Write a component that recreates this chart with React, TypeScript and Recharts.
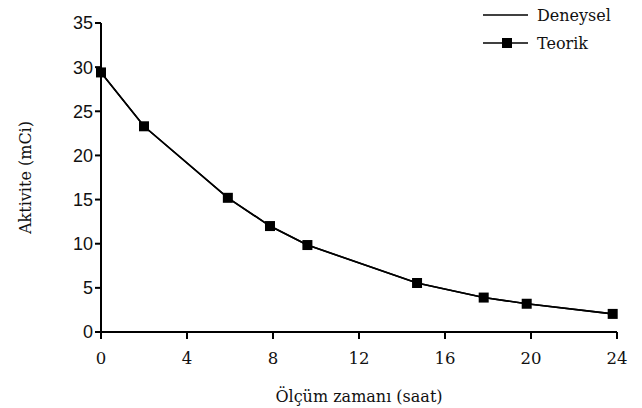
import React from "react";
import { LineChart, Line, XAxis, YAxis } from "recharts";

const hours = [0, 2, 5.9, 7.86, 9.6, 14.7, 17.8, 19.8, 23.8];
const deneysel = [29.4, 23.3, 15.2, 12.0, 9.85, 5.55, 3.9, 3.2, 2.05];
const teorik = [29.4, 23.3, 15.2, 12.0, 9.85, 5.55, 3.9, 3.2, 2.05];
const xTicks = [0, 4, 8, 12, 16, 20, 24];
const yTicks = [0, 5, 10, 15, 20, 25, 30, 35];
const legendNames = ["Deneysel", "Teorik"];

const data = hours.map((h, i) => ({ h, deneysel: deneysel[i], teorik: teorik[i] }));

const SquareDot = (props: any) => {
  const { cx, cy } = props;
  if (cx == null || cy == null) return null;
  return <rect x={cx - 5} y={cy - 5} width={10} height={10} fill="#000" />;
};

const serif = "'DejaVu Serif', serif";
const sans = "'Liberation Sans', Arial, sans-serif";

export default function App() {
  return (
    <div style={{ position: "absolute", left: 0, top: 0, width: 642, height: 408, background: "#fff" }}>
      <LineChart width={642} height={408} data={data} margin={{ top: 23, right: 25, bottom: 0, left: 0 }}>
        <XAxis
          dataKey="h"
          type="number"
          domain={[0, 24]}
          ticks={xTicks}
          height={76}
          axisLine={{ stroke: "#000", strokeWidth: 2 }}
          tickLine={{ stroke: "#000", strokeWidth: 2 }}
          tickSize={7}
          tickMargin={13}
          tick={{ fontFamily: serif, fontSize: 16.5, fill: "#111" }}
          label={{ value: "Ölçüm zamanı (saat)", position: "insideBottom", offset: 6, fontFamily: serif, fontSize: 16, fill: "#111" }}
        />
        <YAxis
          type="number"
          domain={[0, 35]}
          ticks={yTicks}
          width={101}
          axisLine={{ stroke: "#000", strokeWidth: 2 }}
          tickLine={{ stroke: "#000", strokeWidth: 2 }}
          tickSize={6}
          tick={{ fontFamily: sans, fontSize: 18, fill: "#111" }}
          label={{ value: "Aktivite (mCi)", angle: -90, position: "insideLeft", offset: 25, fontFamily: serif, fontSize: 16, fill: "#111", style: { textAnchor: "middle" } }}
        />
        <Line dataKey="deneysel" name={legendNames[0]} stroke="#000" strokeWidth={1.6} dot={false} isAnimationActive={false} />
        <Line dataKey="teorik" name={legendNames[1]} stroke="#000" strokeWidth={1.6} dot={<SquareDot />} activeDot={false} isAnimationActive={false} />
      </LineChart>
      <svg width={164} height={60} style={{ position: "absolute", left: 478, top: 0 }}>
        <line x1={5} y1={15} x2={50} y2={15} stroke="#000" strokeWidth={1.6} />
        <text x={59} y={21} fontFamily={serif} fontSize={16} fill="#111">{legendNames[0]}</text>
        <line x1={5} y1={43} x2={50} y2={43} stroke="#000" strokeWidth={1.6} />
        <rect x={24} y={38} width={10} height={10} fill="#000" />
        <text x={59} y={49} fontFamily={serif} fontSize={16} fill="#111">{legendNames[1]}</text>
      </svg>
    </div>
  );
}
